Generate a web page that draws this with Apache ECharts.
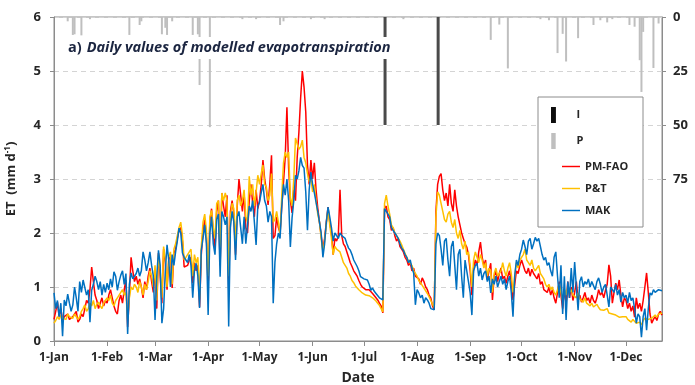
<!DOCTYPE html>
<html>
<head>
<meta charset="utf-8">
<script src="https://cdn.jsdelivr.net/npm/echarts@6.0.0/dist/echarts.min.js"></script>
<style>
  html, body { margin: 0; padding: 0; background: #fff; }
  #chart { width: 695px; height: 385px; }
</style>
</head>
<body>
<div id="chart"></div>
<script>
// Calendar used to label the daily categories
const monthNames = ['Jan', 'Feb', 'Mar', 'Apr', 'May', 'Jun', 'Jul', 'Aug', 'Sep', 'Oct', 'Nov', 'Dec'];
const monthLengths = [31, 28, 31, 30, 31, 30, 31, 31, 30, 31, 30, 31];

// Daily modelled ET (mm d-1), one row per month, 1 Jan to 22 Dec
const pmFao = [
  0.40,0.55,0.72,0.45,0.60,0.38,0.45,0.42,0.50,0.40,0.38,0.45,0.42,0.55,0.35,0.40,0.50,0.45,0.60,0.75,0.70,0.95,1.37,1.10,0.85,0.75,0.60,0.70,0.80,0.65,0.75,
  0.70,0.85,0.95,0.80,0.65,0.55,0.50,0.75,0.85,0.70,0.95,1.13,0.26,0.85,1.55,1.30,1.10,1.20,1.05,1.15,1.00,0.80,1.10,0.95,1.20,1.35,1.10,0.90,
  1.30,0.60,1.63,1.20,0.70,1.70,1.45,0.95,1.50,1.60,0.98,1.63,1.70,1.90,2.05,2.10,1.85,1.37,1.35,1.40,1.50,1.55,1.07,1.45,1.30,1.40,0.63,1.60,2.05,2.25,1.90,
  1.00,2.20,2.45,2.00,1.70,2.40,2.60,1.40,2.74,2.50,2.30,2.70,1.00,2.40,2.60,2.35,1.60,2.50,3.00,2.70,2.40,2.74,2.10,2.00,2.60,2.90,2.55,2.30,2.80,2.45,
  2.60,2.90,3.35,3.00,2.80,2.52,2.90,3.44,1.90,1.95,2.30,2.10,2.00,2.50,2.94,3.40,4.33,3.20,2.60,2.37,2.80,2.60,3.40,3.87,4.50,5.00,4.70,4.24,3.26,2.90,3.35,
  3.00,3.30,2.80,2.46,2.20,1.95,1.70,1.90,2.20,2.48,2.20,2.00,1.60,1.90,1.85,1.95,2.80,1.95,1.80,1.75,1.65,1.55,1.45,1.38,1.30,1.25,1.20,1.12,1.05,1.00,
  0.98,0.95,0.92,0.95,0.94,0.88,0.85,0.80,0.76,0.70,0.65,0.52,2.45,2.50,2.30,2.25,2.05,2.10,1.95,1.85,1.90,1.75,1.70,1.65,1.55,1.50,1.40,1.45,1.30,1.35,1.20,
  1.19,1.15,1.05,1.17,1.10,1.00,0.95,0.85,0.80,0.65,0.58,2.40,2.90,3.05,3.10,2.80,2.60,2.74,2.50,2.90,2.55,2.40,2.80,2.50,2.30,2.15,2.00,1.90,1.80,1.74,1.60,
  1.30,0.85,1.35,1.50,1.40,1.65,1.83,1.55,1.40,1.50,1.13,1.30,1.44,0.76,1.20,1.30,1.10,1.25,1.35,1.15,1.20,1.07,1.20,1.30,1.10,0.76,1.05,1.30,1.25,1.40,
  1.50,1.50,1.30,1.25,1.35,1.20,1.33,1.25,1.20,1.15,1.25,1.05,1.10,0.95,0.94,0.90,1.00,0.85,0.95,0.80,0.70,0.90,1.10,0.85,0.60,0.95,0.70,1.10,0.80,1.00,0.75,
  0.90,1.10,0.76,0.85,0.72,0.80,0.90,0.75,0.80,0.70,0.85,0.75,0.70,0.80,0.95,0.85,0.90,0.80,0.94,1.05,1.41,1.20,0.70,0.90,1.07,0.95,1.13,0.85,0.63,0.80,
  0.75,0.60,0.70,0.55,0.65,0.44,0.80,0.60,0.70,0.55,0.75,1.00,1.26,0.90,0.50,0.33,0.40,0.45,0.38,0.50,0.55,0.48
];

const pt = [
  0.33,0.38,0.45,0.40,0.48,0.42,0.45,0.40,0.50,0.45,0.48,0.42,0.50,0.47,0.40,0.45,0.55,0.60,0.67,0.55,0.60,0.70,0.65,0.75,0.60,0.68,0.72,0.65,0.60,0.70,0.75,
  0.80,0.75,0.85,0.70,0.65,0.75,0.80,0.85,0.90,0.95,0.85,0.90,0.40,0.80,1.00,0.95,1.05,1.00,0.90,1.10,1.00,0.85,1.05,0.95,1.10,1.30,1.20,1.00,
  1.40,0.75,1.60,1.30,0.80,1.75,1.50,1.00,1.55,1.65,1.05,1.70,1.80,1.95,2.10,2.20,1.95,1.50,1.55,1.60,1.65,1.70,1.20,1.60,1.45,1.55,0.80,1.75,2.20,2.35,2.05,
  1.20,2.30,2.42,2.10,1.90,2.55,2.60,1.60,2.74,2.60,2.74,2.60,1.20,2.30,2.55,2.45,1.80,2.60,2.70,2.50,2.60,2.80,2.30,2.20,3.05,2.70,2.90,2.50,2.75,3.07,
  2.90,3.10,3.26,2.90,2.85,2.60,2.70,3.10,2.20,2.25,2.40,2.20,1.96,2.70,3.30,3.50,3.40,3.50,2.65,2.50,3.00,3.76,3.65,3.55,3.60,3.72,3.40,3.30,3.10,2.95,3.00,
  2.76,2.90,2.60,2.35,2.20,1.90,1.65,1.85,2.15,2.45,2.15,1.90,1.60,1.75,1.70,1.68,1.65,1.55,1.45,1.40,1.35,1.25,1.20,1.12,1.08,1.02,1.00,0.95,0.92,0.89,
  0.88,0.85,0.86,0.84,0.82,0.80,0.78,0.74,0.70,0.66,0.60,0.54,2.55,2.70,2.50,2.35,2.15,2.10,2.00,1.95,1.98,1.85,1.78,1.70,1.62,1.55,1.48,1.50,1.40,1.30,1.25,
  1.20,1.12,1.08,1.05,0.98,0.95,0.88,0.82,0.75,0.68,0.62,2.30,2.76,2.70,2.55,2.40,2.25,2.20,2.35,2.40,2.20,2.10,2.25,2.00,1.90,2.05,1.80,1.70,1.85,1.60,1.65,
  1.40,1.00,1.50,1.65,1.55,1.45,1.60,1.50,1.35,1.45,1.20,1.35,1.30,0.90,1.25,1.35,1.20,1.25,1.30,1.45,1.30,1.20,1.35,1.45,1.25,0.90,1.20,1.45,1.35,1.50,
  1.55,1.60,1.70,1.50,1.45,1.40,1.50,1.35,1.30,1.35,1.40,1.25,1.20,1.15,1.05,1.00,1.05,0.95,1.00,0.90,0.85,0.95,1.05,0.90,0.75,0.95,0.85,1.00,0.90,0.95,0.85,
  0.85,0.80,0.89,0.78,0.75,0.72,0.80,0.70,0.72,0.65,0.70,0.63,0.60,0.68,0.62,0.58,0.60,0.57,0.55,0.60,0.52,0.55,0.50,0.53,0.48,0.50,0.44,0.47,0.45,0.42,
  0.45,0.40,0.42,0.35,0.40,0.38,0.33,0.30,0.35,0.30,0.38,0.42,0.45,0.40,0.38,0.42,0.45,0.48,0.44,0.50,0.48,0.52
];

const mak = [
  0.89,0.60,0.75,0.45,0.70,0.09,0.76,0.65,0.87,0.70,0.55,0.67,1.00,0.80,0.55,1.10,0.90,1.13,1.10,0.85,0.95,0.35,0.94,1.05,1.20,1.10,0.95,1.10,0.85,1.05,0.90,
  1.07,0.95,1.15,1.00,1.28,1.20,0.94,1.10,1.22,1.30,1.05,1.25,0.13,1.05,1.26,1.15,1.13,1.25,1.35,1.20,1.30,1.65,1.50,1.30,1.45,1.65,1.40,1.20,
  0.39,1.20,1.68,1.40,0.33,0.60,1.30,1.78,1.50,1.00,1.60,1.40,1.65,1.85,2.09,2.00,1.63,1.55,1.50,1.45,1.60,1.40,0.80,1.30,1.44,1.20,0.61,1.68,1.90,2.15,1.80,
  0.48,2.00,2.30,1.80,1.60,2.25,2.35,1.19,2.40,2.30,2.15,2.30,0.27,2.10,2.40,2.20,1.50,2.30,2.40,2.10,1.80,2.30,1.80,1.80,2.50,2.40,2.60,2.20,1.78,2.50,
  2.57,2.75,2.90,2.60,2.50,2.20,2.40,2.30,0.70,1.46,1.80,2.00,1.90,2.50,2.90,2.70,3.00,2.60,1.74,2.28,2.60,3.07,3.00,3.15,3.40,3.25,3.20,2.76,2.05,2.80,3.13,
  2.90,2.75,2.57,2.40,2.20,2.00,1.55,1.80,2.20,2.48,2.30,2.10,1.85,2.00,1.95,1.90,2.00,1.95,1.93,1.90,1.80,1.72,1.68,1.60,1.50,1.44,1.38,1.30,1.19,1.17,
  1.15,1.13,1.13,1.05,0.94,0.98,0.92,0.88,0.85,0.80,0.78,0.76,2.45,2.48,2.35,2.30,2.10,2.05,2.00,1.95,1.90,1.80,1.72,1.68,1.60,1.55,1.45,1.50,1.35,1.26,0.67,
  0.95,0.89,0.80,0.85,0.70,0.80,0.76,0.70,0.60,0.63,0.58,1.80,2.00,1.95,1.70,1.40,1.85,1.90,1.50,1.20,1.75,1.85,1.40,0.95,1.60,1.70,1.20,0.80,1.50,1.30,1.10,
  0.89,0.48,1.30,1.40,1.44,1.20,1.35,1.13,1.25,1.30,1.10,1.20,0.89,1.15,1.05,1.20,1.00,1.10,1.20,1.05,1.15,0.95,1.10,1.20,0.90,0.45,1.20,1.50,1.40,1.60,
  1.70,1.87,1.75,1.60,1.85,1.90,1.70,1.80,1.92,1.85,1.90,1.75,1.60,1.50,1.55,1.40,1.45,1.30,1.20,1.55,1.65,1.20,0.80,1.40,0.50,1.20,0.39,1.10,0.80,1.35,0.90,
  1.46,1.00,0.57,1.10,1.19,1.00,1.10,1.05,1.15,1.00,1.10,1.07,0.95,1.10,1.17,1.05,0.90,1.00,1.05,0.85,0.63,1.00,0.95,0.90,1.05,0.85,0.95,0.72,0.90,0.80,
  0.85,0.70,0.90,0.75,0.80,0.60,0.33,0.50,0.45,0.07,0.45,0.60,0.20,0.60,0.89,0.85,0.95,0.90,0.92,0.95,0.95,0.93
];

// Precipitation (P) and irrigation (I) events: day index from 1 Jan, depth in mm
const precipDays = [8,11,12,16,21,44,50,51,63,65,66,69,81,84,85,91,110,118,132,134,150,158,204,255,260,265,284,289,294,297,299,306,315,319,323,326,336,339,342,343,344,350,353];
const precipMm = [2,8.3,8,8.5,1,8.3,3.7,2,8,5,8.3,2,8.3,8,31.5,51,1,1,3.7,2,1,1,1,10.6,3.5,23.8,1,1.5,16.7,7.8,20.6,9.8,3.7,1.5,2.5,1,3.7,4.5,20,34.7,6.9,23.6,3];
const irrigDays = [193, 224];
const irrigMm = [50, 50];

// Tick values shown on the two value axes
const etTicks = [0, 1, 2, 3, 4, 5, 6];
const waterTicks = [0, 25, 50, 75];

// One category per day, labelled "d-Mon"
const dates = [];
for (let m = 0; m < 12; m++) {
  for (let d = 1; d <= monthLengths[m]; d++) {
    if (dates.length < pmFao.length) dates.push(d + '-' + monthNames[m]);
  }
}
const isMonthStart = (idx, val) => String(val).startsWith('1-');

const font = 'Open Sans';
const axisGrey = '#8c8c8c';
const textDark = '#262626';
const lineIcon = 'path://M0,0H20V1.6H0Z';

const chart = echarts.init(document.getElementById('chart'), null, { renderer: 'canvas' });
chart.setOption({
  animation: false,
  backgroundColor: '#fff',
  title: {
    text: '{n|a)} {t|Daily values of modelled evapotranspiration}',
    left: 64, top: 37,
    backgroundColor: '#fff',
    padding: [2, 4, 2, 4],
    textStyle: {
      rich: {
        n: { fontFamily: font, fontWeight: 'bold', fontSize: 14.5, color: '#1b2540' },
        t: { fontFamily: font, fontWeight: 'bold', fontStyle: 'italic', fontSize: 14.5, color: '#1b2540' }
      }
    }
  },
  grid: {
    left: 54, right: 33, top: 17, bottom: 44,
    outerBoundsMode: 'none', containLabel: false,
    show: true, borderColor: axisGrey, borderWidth: 1, backgroundColor: 'transparent'
  },
  graphic: [{
    type: 'rect', z: 3,
    shape: { x: 538, y: 97, width: 105, height: 130 },
    style: { fill: '#fff', stroke: axisGrey, lineWidth: 1 }
  }],
  legend: [
    {
      data: [
        { name: 'I', icon: 'path://M0,0H4V13H0Z', itemStyle: { color: '#0d0d0d' } },
        { name: 'P', icon: 'path://M0,0H5V18H0Z', itemStyle: { color: '#bfbfbf' } }
      ],
      orient: 'vertical', left: 546, top: 102,
      itemWidth: 36, itemHeight: 16, itemGap: 10,
      selectedMode: false, z: 5,
      textStyle: { fontFamily: font, fontWeight: 'bold', fontSize: 11, color: textDark }
    },
    {
      data: [
        { name: 'PM-FAO', icon: lineIcon },
        { name: 'P&T', icon: lineIcon },
        { name: 'MAK', icon: lineIcon }
      ],
      orient: 'vertical', left: 557, top: 156,
      itemWidth: 18, itemHeight: 14, itemGap: 11,
      selectedMode: false, z: 5,
      textStyle: { fontFamily: font, fontWeight: 'bold', fontSize: 11, color: textDark }
    }
  ],
  xAxis: {
    type: 'category',
    data: dates,
    boundaryGap: false,
    axisLine: { lineStyle: { color: axisGrey } },
    axisTick: { show: true, interval: isMonthStart, length: 5, lineStyle: { color: axisGrey } },
    axisLabel: {
      interval: isMonthStart, margin: 11,
      fontFamily: font, fontWeight: 'bold', fontSize: 12, color: textDark
    },
    splitLine: { show: false },
    name: 'Date', nameLocation: 'middle', nameGap: 30,
    nameTextStyle: { fontFamily: font, fontWeight: 'bold', fontSize: 14, color: textDark }
  },
  yAxis: [
    {
      type: 'value', min: etTicks[0], max: etTicks[etTicks.length - 1], interval: 1,
      axisLine: { show: true, lineStyle: { color: axisGrey } },
      axisTick: { show: true, length: 4, lineStyle: { color: axisGrey } },
      axisLabel: { margin: 13, fontFamily: font, fontWeight: 'bold', fontSize: 13, color: textDark },
      splitLine: { show: true, lineStyle: { color: '#d4d4d4', type: [5, 4], width: 1 } },
      name: '{a|ET  (mm d}{s|-1}{a|)}',
      nameLocation: 'middle', nameGap: 36, nameRotate: 90,
      nameTextStyle: {
        rich: {
          a: { fontFamily: font, fontWeight: 'bold', fontSize: 13, color: textDark },
          s: { fontFamily: font, fontWeight: 'bold', fontSize: 8, color: textDark, verticalAlign: 'top', padding: [0, 0, 6, 0] }
        }
      }
    },
    {
      type: 'value', position: 'right', inverse: true,
      min: 0, max: 150, interval: 25,
      axisLine: { show: true, lineStyle: { color: axisGrey } },
      axisTick: { show: true, length: 4, customValues: waterTicks, lineStyle: { color: axisGrey } },
      axisLabel: { customValues: waterTicks, margin: 11, fontFamily: font, fontWeight: 'bold', fontSize: 13, color: textDark },
      splitLine: { show: false }
    }
  ],
  series: [
    {
      name: 'I', type: 'bar', yAxisIndex: 1,
      data: irrigDays.map((d, i) => [d, irrigMm[i]]),
      barWidth: 3, barGap: '-100%',
      itemStyle: { color: '#4a4a4a' }, z: 1
    },
    {
      name: 'P', type: 'bar', yAxisIndex: 1,
      data: precipDays.map((d, i) => [d, precipMm[i]]),
      barWidth: 2, barGap: '-100%',
      itemStyle: { color: '#bfbfbf' }, z: 1
    },
    {
      name: 'PM-FAO', type: 'line', data: pmFao, symbol: 'none',
      lineStyle: { color: '#ff0000', width: 1.5 }, itemStyle: { color: '#ff0000' }
    },
    {
      name: 'P&T', type: 'line', data: pt, symbol: 'none',
      lineStyle: { color: '#ffc000', width: 1.5 }, itemStyle: { color: '#ffc000' }
    },
    {
      name: 'MAK', type: 'line', data: mak, symbol: 'none',
      lineStyle: { color: '#0070c0', width: 1.5 }, itemStyle: { color: '#0070c0' }
    }
  ]
});
</script>
</body>
</html>
